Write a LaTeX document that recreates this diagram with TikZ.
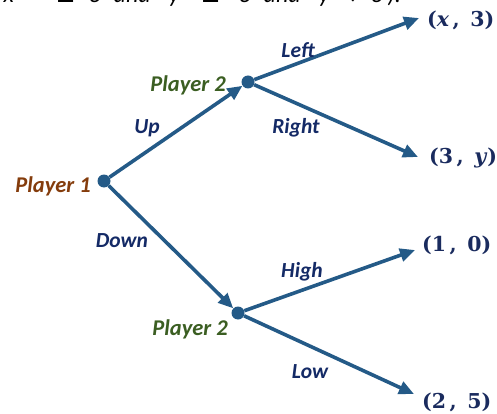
\documentclass[tikz,border=0pt]{standalone}
\usepackage{fontspec}
\setmainfont{Carlito}
\newfontfamily\symfont{DejaVu Sans}
\newfontfamily\payofffont{DejaVu Serif}
\usetikzlibrary{arrows.meta}
\definecolor{edgeblue}{HTML}{245A87}
\definecolor{movenavy}{HTML}{142A66}
\definecolor{ponebrown}{HTML}{843C0C}
\definecolor{ptwogreen}{HTML}{3B5E22}
\definecolor{payoffnavy}{HTML}{1A2B5E}
\newcommand{\at}[2]{\rlap{\hskip #1pt #2}}
\tikzset{
  decision/.style={circle,fill=edgeblue,inner sep=0pt,minimum size=13pt},
  branch/.style={draw=edgeblue,line width=3.6pt,-{Triangle[length=15pt,width=13pt]}},
  movelabel/.style={font=\fontsize{21.5}{25}\selectfont\bfseries\itshape,text=movenavy,inner sep=0pt},
  player/.style={font=\fontsize{22.5}{26}\selectfont\bfseries\itshape,inner sep=0pt},
  payoff/.style={font=\payofffont\fontsize{20.5}{24}\selectfont\bfseries,text=payoffnavy,inner sep=0pt,anchor=west}
}
\begin{document}
\begin{tikzpicture}[x=1pt,y=-1pt]
\useasboundingbox (0,0) rectangle (497,414);
% line of text above the tree, mostly cut off by the top edge
\node[anchor=base west,inner sep=0pt,font=\fontsize{24}{28}\selectfont\itshape] (cond) at (0,3)
  {\at{3}{x}\at{55}{\symfont≤}\at{88}{3}\at{113}{and}\at{168}{y}\at{200}{\symfont≤}%
   \at{238}{3}\at{263}{and}\at{318}{y}\at{347}{\symfont≠}\at{370}{3}\at{387}{).}};
% decision points
\node[decision] (p1) at (104,181) {};
\node[decision] (p2a) at (248,82) {};
\node[decision] (p2b) at (238,313) {};
% arrow tips at the outcomes
\coordinate (ta) at (419,18);
\coordinate (tb) at (418,157);
\coordinate (tc) at (415,250);
\coordinate (td) at (414,394);
% edges
\draw[branch] (p1) -- (p2a);
\draw[branch] (p1) -- (p2b);
\draw[branch] (p2a) -- (ta);
\draw[branch] (p2a) -- (tb);
\draw[branch] (p2b) -- (tc);
\draw[branch] (p2b) -- (td);
% players
\node[player,text=ponebrown,anchor=east] (l1) at (91,186) {Player 1};
\node[player,text=ptwogreen,anchor=east] (l2a) at (226,85) {Player 2};
\node[player,text=ptwogreen,anchor=east] (l2b) at (228,329) {Player 2};
% moves
\node[movelabel] (mup) at (147,128) {Up};
\node[movelabel] (mdown) at (122,241) {Down};
\node[movelabel] (mleft) at (298,50) {Left};
\node[movelabel] (mright) at (296,128) {Right};
\node[movelabel] (mhigh) at (302,272) {High};
\node[movelabel] (mlow) at (310,372) {Low};
% payoffs
\node[payoff] (oa) at (427,20) {(\textit{x}\,,\, 3)};
\node[payoff] (ob) at (429,158) {(3\,,\, \textit{y})};
\node[payoff] (oc) at (422,245) {(1\,,\, 0)};
\node[payoff] (od) at (422,402) {(2\,,\, 5)};
\end{tikzpicture}
\end{document}
